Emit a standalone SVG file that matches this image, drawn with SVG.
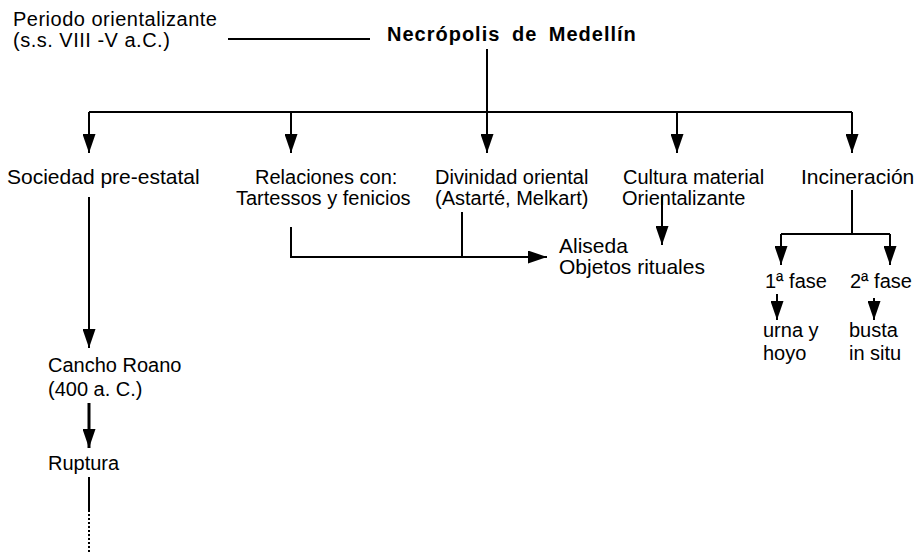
<svg xmlns="http://www.w3.org/2000/svg" width="920" height="554" viewBox="0 0 920 554">
<style>
text{font-family:"Liberation Sans",Arial,Helvetica,sans-serif;font-size:20px;fill:#000}
.w{font-size:21px}
.s{letter-spacing:0.5px}
.b{font-weight:bold;letter-spacing:1px;word-spacing:5px}
.ln{stroke:#000;stroke-width:2;fill:none}
.ar{marker-end:url(#ah)}
</style>
<defs>
<marker id="ah" viewBox="0 0 19 13" refX="19" refY="6.5" markerWidth="19" markerHeight="13" markerUnits="userSpaceOnUse" orient="auto">
<path d="M0,0 L19,6.5 L0,13 z" fill="#000"/>
</marker>
</defs>
<rect width="920" height="554" fill="#fff"/>
<g id="connectors">
<line class="ln" x1="228" y1="39" x2="370" y2="39"/>
<line class="ln ar" x1="487" y1="49" x2="487" y2="153"/>
<line class="ln" x1="89" y1="112" x2="852" y2="112"/>
<line class="ln ar" x1="89" y1="112" x2="89" y2="153"/>
<line class="ln ar" x1="291" y1="112" x2="291" y2="153"/>
<line class="ln ar" x1="677" y1="112" x2="677" y2="153"/>
<line class="ln ar" x1="852" y1="112" x2="852" y2="153"/>
<polyline class="ln" points="291,227 291,257 462,257"/>
<line class="ln ar" x1="462" y1="257" x2="547" y2="257"/>
<line class="ln" x1="462" y1="212" x2="462" y2="257"/>
<line class="ln ar" x1="662" y1="196" x2="662" y2="245"/>
<line class="ln" x1="852" y1="190" x2="852" y2="234"/>
<line class="ln" x1="781" y1="234" x2="890" y2="234"/>
<line class="ln ar" x1="781" y1="234" x2="781" y2="265"/>
<line class="ln ar" x1="890" y1="234" x2="890" y2="265"/>
<line class="ln ar" x1="777" y1="294" x2="777" y2="320"/>
<line class="ln ar" x1="874" y1="298" x2="874" y2="320"/>
<line class="ln ar" x1="89" y1="197" x2="89" y2="348"/>
<line class="ln ar" x1="89" y1="403" x2="89" y2="448" style="stroke-width:3"/>
<line class="ln" x1="89" y1="477" x2="89" y2="510"/>
<line class="ln" x1="89" y1="510" x2="89" y2="554" style="stroke-dasharray:2 2"/>
</g>
<g id="periodo">
<text class="s" x="13" y="26">Periodo orientalizante</text>
<text class="s" x="13" y="47">(s.s. VIII -V a.C.)</text>
</g>
<g id="necropolis"><text class="b" x="387" y="41">Necrópolis de Medellín</text></g>
<g id="sociedad"><text class="w" x="7" y="184">Sociedad pre-estatal</text></g>
<g id="relaciones">
<text x="255" y="184">Relaciones con:</text>
<text x="236" y="205">Tartessos y fenicios</text>
</g>
<g id="divinidad">
<text x="435" y="184">Divinidad oriental</text>
<text x="435" y="205">(Astarté, Melkart)</text>
</g>
<g id="cultura">
<text x="623" y="184">Cultura material</text>
<text x="622" y="205">Orientalizante</text>
</g>
<g id="incineracion"><text class="w" x="801" y="184">Incineración</text></g>
<g id="aliseda">
<text class="w" x="559" y="253">Aliseda</text>
<text class="w" x="559" y="274">Objetos rituales</text>
</g>
<g id="fase1"><text x="765" y="288">1ª fase</text></g>
<g id="fase2"><text x="850" y="288">2ª fase</text></g>
<g id="urna">
<text x="763" y="337">urna y</text>
<text x="763" y="360">hoyo</text>
</g>
<g id="busta">
<text x="849" y="337">busta</text>
<text x="849" y="360">in situ</text>
</g>
<g id="cancho">
<text x="48" y="372">Cancho Roano</text>
<text x="48" y="396">(400 a. C.)</text>
</g>
<g id="ruptura"><text x="48" y="470">Ruptura</text></g>
</svg>
